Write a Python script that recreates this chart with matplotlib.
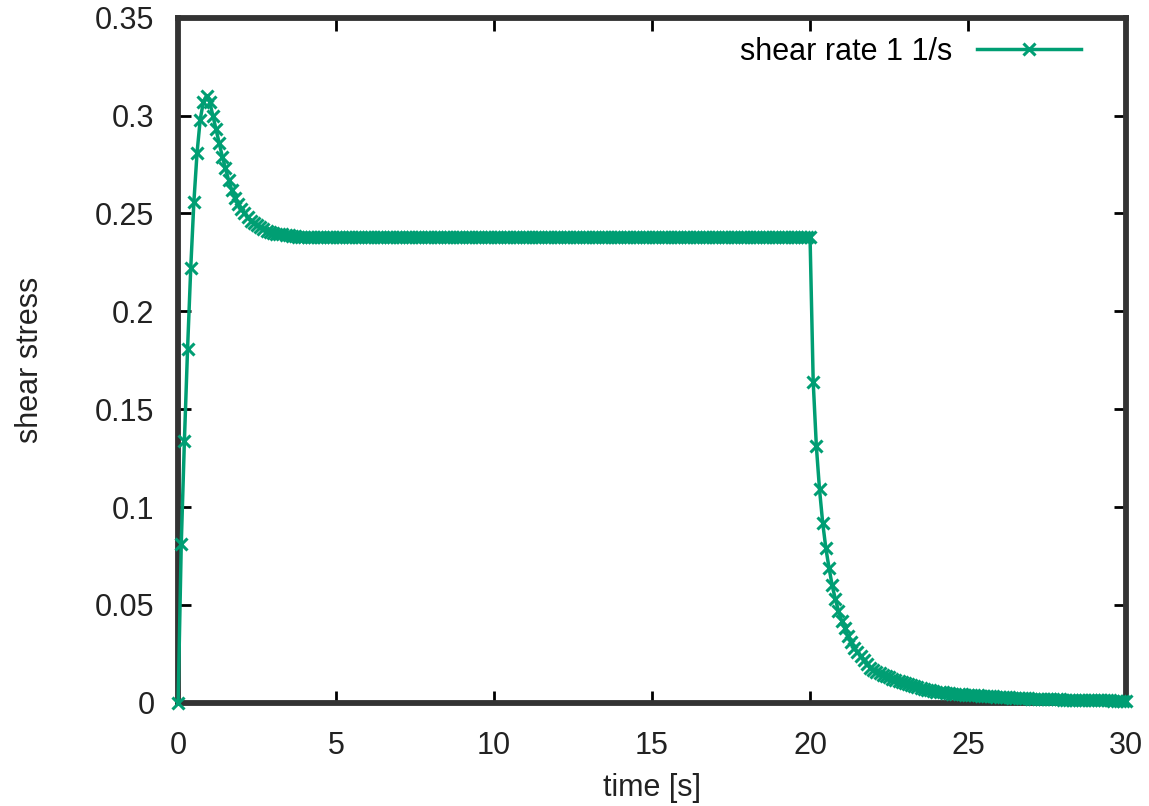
import numpy as np
import matplotlib.pyplot as plt

dt = 0.1
rise = [0.0, 0.081, 0.134, 0.181, 0.222, 0.256, 0.281, 0.298, 0.307, 0.310,
        0.307, 0.300, 0.293, 0.286, 0.279, 0.273, 0.267, 0.262, 0.258, 0.255,
        0.2525, 0.250, 0.248, 0.246, 0.245, 0.244, 0.243, 0.242, 0.241, 0.2405,
        0.240, 0.2397, 0.2395, 0.2393, 0.239, 0.2388, 0.2386, 0.2384, 0.2382, 0.2381]
plateau = [0.238] * 161          # t = 4.0 ... 20.0
relax = [0.164, 0.131, 0.109, 0.092, 0.079, 0.069, 0.060, 0.053, 0.047, 0.042,
         0.038, 0.034, 0.031, 0.028, 0.026, 0.024, 0.022, 0.020, 0.018, 0.017,
         0.016, 0.015, 0.014, 0.0135, 0.013, 0.012, 0.0115, 0.011, 0.0105, 0.010,
         0.0095, 0.009, 0.0085, 0.008, 0.0076, 0.0072, 0.0068, 0.0064, 0.006, 0.0057,
         0.0055, 0.0053, 0.0051, 0.0049, 0.0047, 0.0046, 0.0044, 0.0043, 0.0042, 0.0041,
         0.0040, 0.0039, 0.0038, 0.0037, 0.0036, 0.0035, 0.0034, 0.0033, 0.0032, 0.0031,
         0.0030, 0.0029, 0.0028, 0.0027, 0.0026, 0.0025, 0.0025, 0.0024, 0.0023, 0.0022,
         0.0022, 0.0021, 0.0021, 0.0020, 0.0020, 0.0019, 0.0019, 0.0018, 0.0018, 0.0017,
         0.0017, 0.0016, 0.0016, 0.0015, 0.0015, 0.0015, 0.0014, 0.0014, 0.0014, 0.0013,
         0.0013, 0.0013, 0.0012, 0.0012, 0.0012, 0.0011, 0.0011, 0.0011, 0.0010, 0.0010]
stress = np.array(rise + plateau + relax)
time = np.arange(len(stress)) * dt

xticks = [0, 5, 10, 15, 20, 25, 30]
yticks = [0, 0.05, 0.1, 0.15, 0.2, 0.25, 0.3, 0.35]
ytick_labels = ["0", "0.05", "0.1", "0.15", "0.2", "0.25", "0.3", "0.35"]

plt.rcParams['font.family'] = ['Liberation Sans', 'DejaVu Sans']
fs = 22

fig = plt.figure(figsize=(11.49, 8.06), dpi=100)
ax = fig.add_axes([0.155, 0.128, 0.825, 0.85])

ax.plot(time, stress, color='#009e73', lw=2.5, marker='x', ms=8, mew=2.2,
        label='shear rate 1 1/s', clip_on=False, zorder=5)

ax.set_xlim(0, 30)
ax.set_ylim(0, 0.35)
ax.set_xticks(xticks)
ax.set_yticks(yticks)
ax.set_yticklabels(ytick_labels)
ax.tick_params(direction='in', length=9, width=2, labelsize=fs,
               top=True, right=True, color='black', labelcolor='#222222')
ax.tick_params(axis='x', pad=20)
ax.tick_params(axis='y', pad=17)
for s in ax.spines.values():
    s.set_linewidth(4.2)
    s.set_color('#333333')

ax.set_xlabel('time [s]', fontsize=fs, labelpad=9, color='#222222')
ax.set_ylabel('shear stress', fontsize=fs, labelpad=36, color='#222222')

ax.legend(loc='upper right', frameon=False, fontsize=fs, handlelength=3.4,
          markerfirst=False, bbox_to_anchor=(0.981, 1.012), handletextpad=0.8)

fig.savefig('out.png', dpi=100)
